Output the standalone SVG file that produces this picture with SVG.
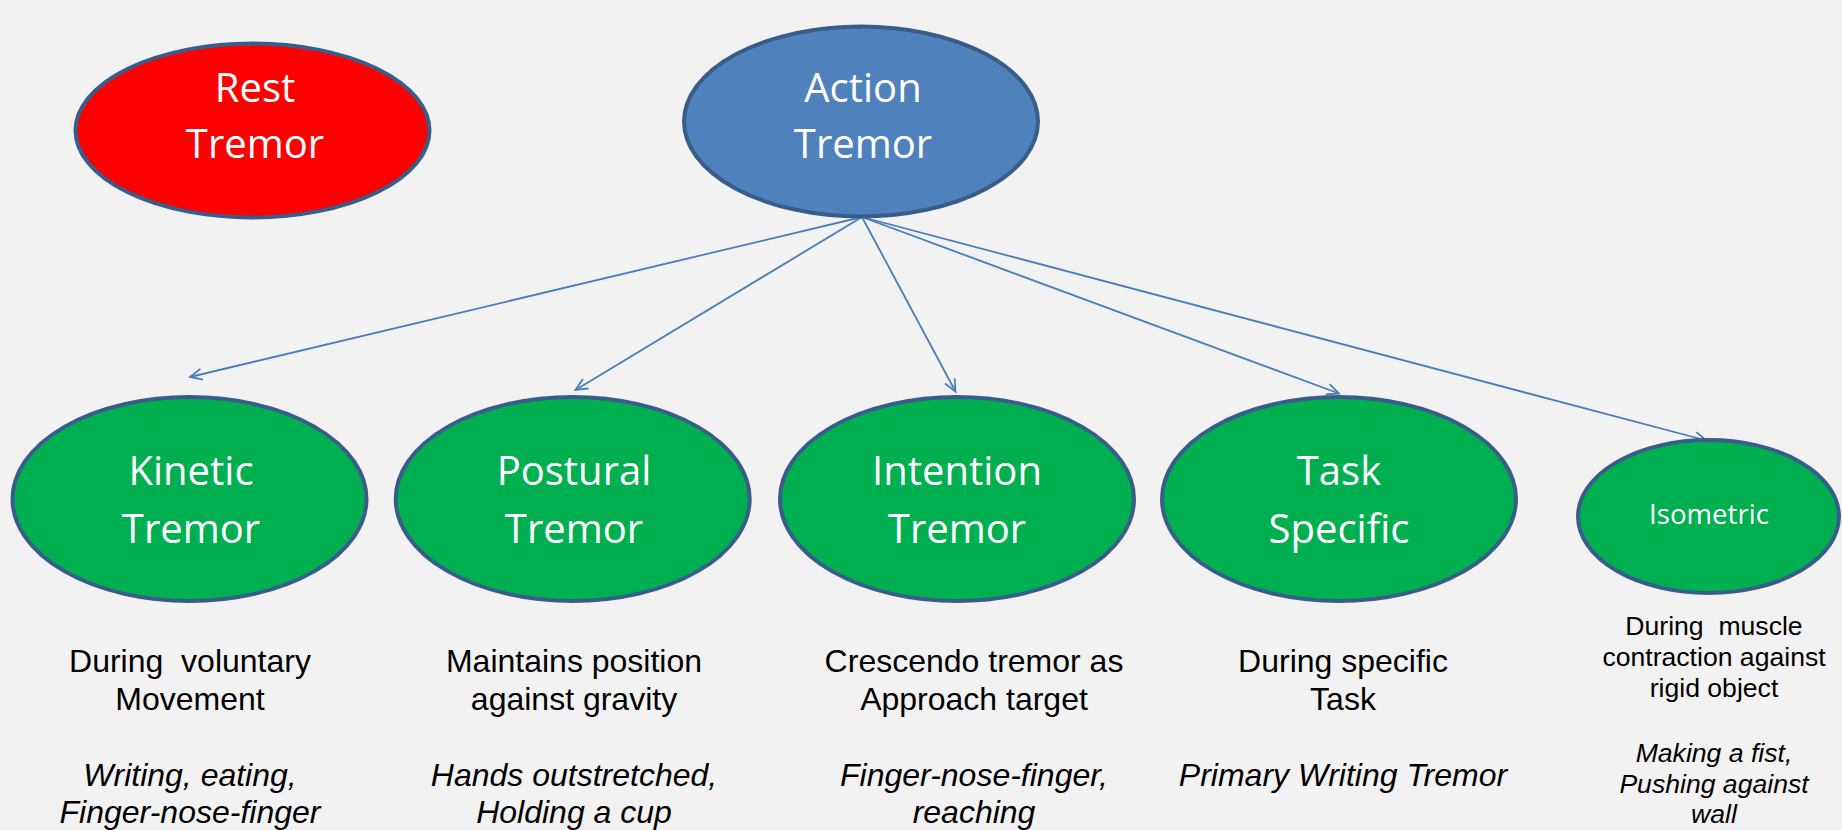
<svg xmlns="http://www.w3.org/2000/svg" width="1842" height="830" viewBox="0 0 1842 830">
  <style>
    .node { stroke: #385D8A; stroke-width: 4; }
    .red { fill: #FF0000; }
    .blue { fill: #4F81BD; }
    .green { fill: #00B050; }
    .label { font-family: "Open Sans", "Noto Sans", sans-serif; font-size: 40px; fill: #FFFFFF; text-anchor: middle; }
    .small { font-size: 27.6px; }
    .desc { font-family: "Liberation Sans", Arial, sans-serif; font-size: 32px; fill: #000000; text-anchor: middle; }
    .desc-s { font-size: 26.6px; }
    .ex { font-style: italic; }
    .link { fill: none; stroke: #4A7EBB; stroke-width: 1.8; }
  </style>
  <defs>
    <marker id="arrow" markerUnits="userSpaceOnUse" markerWidth="18" markerHeight="16" viewBox="-15 -8 18 16" refX="0" refY="0" orient="auto">
      <path d="M-12,-5.5 L0,0 L-12,5.5" fill="none" stroke="#4A7EBB" stroke-width="1.8"/>
    </marker>
  </defs>

  <rect x="0" y="0" width="1842" height="830" fill="#F2F2F2"/>

  <!-- connectors from Action Tremor to its subtypes -->
  <g id="connectors">
    <line class="link" x1="862" y1="217" x2="190" y2="377" marker-end="url(#arrow)"/>
    <line class="link" x1="862" y1="217" x2="575.5" y2="390" marker-end="url(#arrow)"/>
    <line class="link" x1="862" y1="217" x2="955.5" y2="391.5" marker-end="url(#arrow)"/>
    <line class="link" x1="862" y1="217" x2="1339" y2="393.5" marker-end="url(#arrow)"/>
    <line class="link" x1="862" y1="217" x2="1706.5" y2="440.5" marker-end="url(#arrow)"/>
  </g>

  <g id="rest-tremor">
    <ellipse class="node red" cx="252.5" cy="130.5" rx="177" ry="87"/>
    <text class="label" x="255" y="101.7">Rest</text>
    <text class="label" x="255" y="158.3">Tremor</text>
  </g>

  <g id="action-tremor">
    <ellipse class="node blue" cx="861" cy="121.5" rx="177" ry="95"/>
    <text class="label" x="863" y="102">Action</text>
    <text class="label" x="863" y="158.3">Tremor</text>
  </g>

  <g id="kinetic-tremor">
    <ellipse class="node green" cx="189.5" cy="499" rx="177" ry="102"/>
    <text class="label" x="191" y="485">Kinetic</text>
    <text class="label" x="191" y="542.5">Tremor</text>
  </g>

  <g id="postural-tremor">
    <ellipse class="node green" cx="572.7" cy="499" rx="177" ry="102"/>
    <text class="label" x="574" y="485">Postural</text>
    <text class="label" x="574" y="542.5">Tremor</text>
  </g>

  <g id="intention-tremor">
    <ellipse class="node green" cx="957" cy="499" rx="177" ry="102"/>
    <text class="label" x="957" y="485">Intention</text>
    <text class="label" x="957" y="542.5">Tremor</text>
  </g>

  <g id="task-specific">
    <ellipse class="node green" cx="1339" cy="499" rx="177" ry="102"/>
    <text class="label" x="1339" y="485">Task</text>
    <text class="label" x="1339" y="542.5">Specific</text>
  </g>

  <g id="isometric">
    <ellipse class="node green" cx="1708.5" cy="516.5" rx="130.5" ry="76.5"/>
    <text class="label small" x="1709" y="524">Isometric</text>
  </g>

  <!-- descriptions and examples under each subtype -->
  <g id="kinetic-notes">
    <text class="desc" x="190" y="672" xml:space="preserve">During  voluntary</text>
    <text class="desc" x="190" y="710">Movement</text>
    <text class="desc ex" x="190" y="786">Writing, eating,</text>
    <text class="desc ex" x="190" y="823">Finger-nose-finger</text>
  </g>

  <g id="postural-notes">
    <text class="desc" x="574" y="672">Maintains position</text>
    <text class="desc" x="574" y="710">against gravity</text>
    <text class="desc ex" x="574" y="786">Hands outstretched,</text>
    <text class="desc ex" x="574" y="823">Holding a cup</text>
  </g>

  <g id="intention-notes">
    <text class="desc" x="974" y="672">Crescendo tremor as</text>
    <text class="desc" x="974" y="710">Approach target</text>
    <text class="desc ex" x="974" y="786">Finger-nose-finger,</text>
    <text class="desc ex" x="974" y="823">reaching</text>
  </g>

  <g id="task-notes">
    <text class="desc" x="1343" y="672">During specific</text>
    <text class="desc" x="1343" y="710">Task</text>
    <text class="desc ex" x="1343" y="786">Primary Writing Tremor</text>
  </g>

  <g id="isometric-notes">
    <text class="desc desc-s" x="1714" y="635" xml:space="preserve">During  muscle</text>
    <text class="desc desc-s" x="1714" y="666">contraction against</text>
    <text class="desc desc-s" x="1714" y="697">rigid object</text>
    <text class="desc desc-s ex" x="1714" y="762">Making a fist,</text>
    <text class="desc desc-s ex" x="1714" y="793">Pushing against</text>
    <text class="desc desc-s ex" x="1714" y="823">wall</text>
  </g>
</svg>
